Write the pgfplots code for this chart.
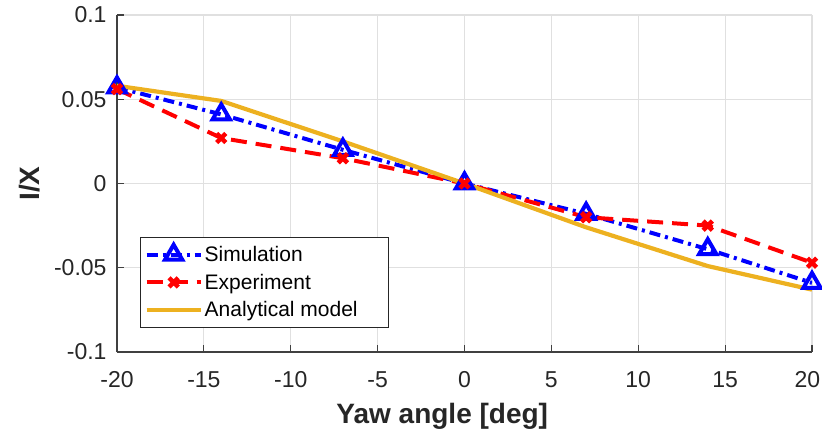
\documentclass[border=0pt]{standalone}
\usepackage{fontspec}
\setmainfont{Liberation Sans}
\usepackage{pgfplots}
\pgfplotsset{compat=1.18}
\definecolor{myorange}{rgb}{0.929,0.694,0.125}
\definecolor{axgray}{rgb}{0.25,0.25,0.25}
\begin{document}
\begin{tikzpicture}
\begin{axis}[
  at={(0,0)}, anchor=south west,
  scale only axis, width=695bp, height=337bp,
  xmin=-20, xmax=20, ymin=-0.1, ymax=0.1,
  axis lines*=left,
  xtick={-20,-15,-10,-5,0,5,10,15,20},
  xticklabels={-20,-15,-10,-5,0,5,10,15,{20\hspace*{9bp}}},
  ytick={-0.1,-0.05,0,0.05,0.1},
  yticklabels={-0.1,-0.05,0,0.05,0.1},
  tick align=inside, major tick length=7bp,
  grid=major, grid style={color=black!12, line width=1.2bp},
  axis line style={color=axgray, line width=1.2bp},
  tick style={color=axgray, line width=1.2bp},
  ticklabel style={font=\fontsize{23bp}{27bp}\selectfont, text=black!85},
  xticklabel style={yshift=-16bp},
  yticklabel style={xshift=-7bp},
  xlabel={\textbf{Yaw angle [deg]}},
  xlabel style={at={(axis description cs:0.468,-0.211)}, anchor=base, font=\fontsize{28bp}{32bp}\selectfont, text=black!85},
  ylabel={\textbf{I/X}},
  ylabel style={at={(axis description cs:-0.125,0.5)}, anchor=center, rotate=0, font=\fontsize{28bp}{32bp}\selectfont, text=black!85},
  legend style={at={(rel axis cs:0.033,0.071)}, anchor=south west,
    font=\fontsize{21bp}{25bp}\selectfont, draw=black!85, line width=1.2bp,
    fill=white, inner xsep=4bp, inner ysep=7bp, row sep=7bp},
  legend cell align=left,
  legend image code/.code={\draw[mark repeat=2,mark phase=2] plot coordinates {(0bp,0bp) (27bp,0bp) (54bp,0bp)};},
]
\addplot[color=blue, line width=4bp, dash pattern=on 11bp off 5bp on 3bp off 5bp,
  mark=triangle, mark size=10bp, mark options={solid, line width=4bp, fill=white}]
  coordinates {(-20,0.057) (-14,0.041) (-7,0.020) (0,0) (7,-0.018) (14,-0.039) (20,-0.059)};
\addlegendentry{Simulation}
\addplot[color=red, line width=4bp, dash pattern=on 16bp off 9bp,
  mark=x, mark size=6.5bp, mark options={solid, line width=4.5bp}]
  coordinates {(-20,0.056) (-14,0.027) (-7,0.015) (0,0) (7,-0.020) (14,-0.025) (20,-0.047)};
\addlegendentry{Experiment}
\addplot[color=myorange, line width=4.2bp, no marks]
  coordinates {(-20,0.058) (-14,0.049) (-7,0.025) (0,0) (7,-0.026) (14,-0.049) (20,-0.063)};
\addlegendentry{\makebox[178bp][l]{Analytical model}}
\end{axis}
\pgfresetboundingbox
\path[use as bounding box] (-117bp,-79bp) rectangle (705bp,352bp);
\end{tikzpicture}
\end{document}
